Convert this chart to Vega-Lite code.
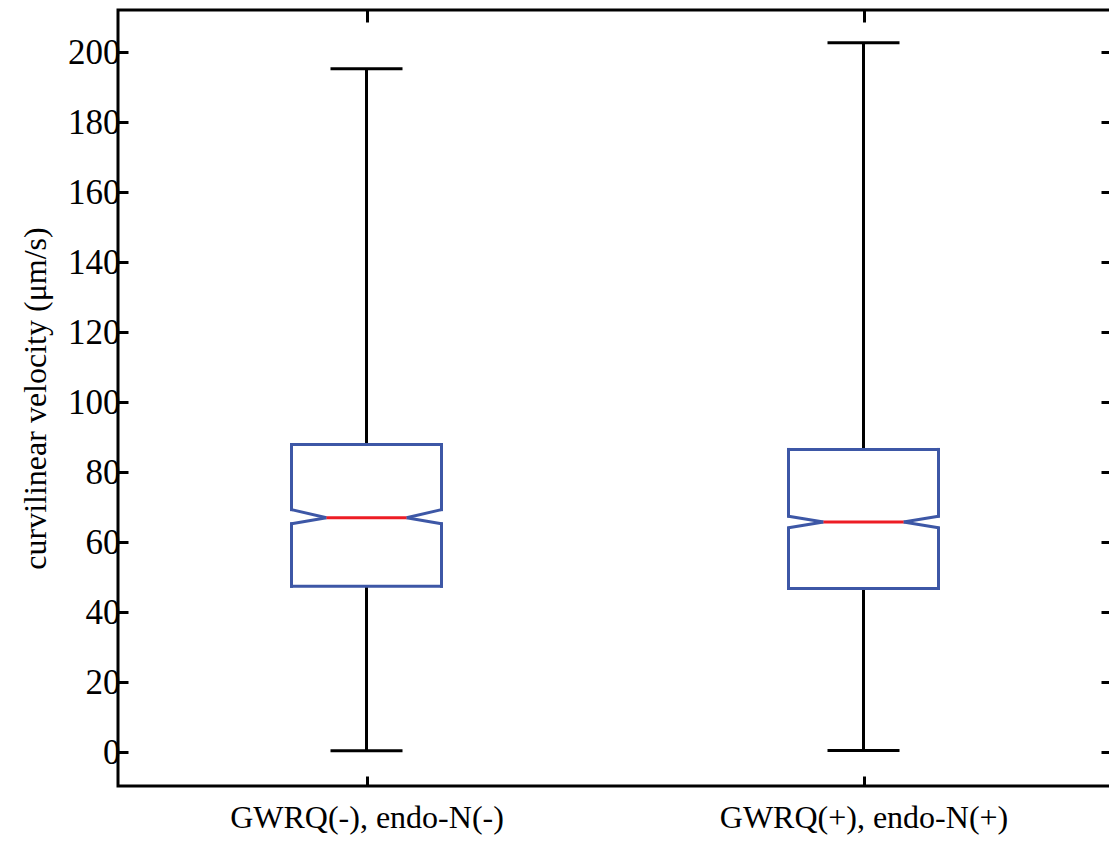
{
  "$schema": "https://vega.github.io/schema/vega-lite/v6.json",
  "autosize": "none",
  "width": 994,
  "height": 776,
  "padding": {"left": 118, "top": 10, "right": 0, "bottom": 55},
  "background": "white",
  "config": {
    "view": {"stroke": "black", "strokeWidth": 3},
    "axis": {
      "labelFont": "Liberation Serif",
      "titleFont": "Liberation Serif",
      "labelColor": "black",
      "titleColor": "black",
      "tickColor": "black",
      "tickWidth": 3,
      "labelLimit": 0,
      "domain": false,
      "grid": false
    },
    "tick": {"opacity": 1}
  },
  "data": {
    "values": [
      {"group": "GWRQ(-), endo-N(-)", "lo": 0.4, "q1": 47.4, "notchLo": 65.3, "med": 67.0, "notchHi": 69.3, "q3": 87.9, "hi": 195.3},
      {"group": "GWRQ(+), endo-N(+)", "lo": 0.5, "q1": 46.8, "notchLo": 64.1, "med": 65.8, "notchHi": 67.4, "q3": 86.5, "hi": 202.7}
    ]
  },
  "resolve": {"axis": {"x": "independent", "y": "independent"}},
  "layer": [
    {
      "mark": {"type": "rule", "color": "black", "strokeWidth": 3},
      "encoding": {
        "x": {"field": "group", "type": "nominal", "sort": null, "scale": {"type": "point", "padding": 0.5, "domain": ["GWRQ(-), endo-N(-)", "GWRQ(+), endo-N(+)"]},
          "axis": {"orient": "bottom", "title": null, "labelAngle": 0, "labelFontSize": 32, "tickSize": -10, "labelPadding": 26}},
        "y": {"field": "q3", "type": "quantitative", "scale": {"domain": [-9.66, 212.06], "nice": false, "zero": false},
          "axis": {"orient": "left", "values": [0, 20, 40, 60, 80, 100, 120, 140, 160, 180, 200], "tickSize": -10, "labelPadding": 8, "labelFontSize": 35,
            "title": "curvilinear velocity (μm/s)", "titleFontSize": 32, "titleFontWeight": "normal", "titlePadding": 15}},
        "y2": {"field": "hi"}
      }
    },
    {
      "mark": {"type": "rule", "color": "black", "strokeWidth": 3},
      "encoding": {
        "x": {"field": "group", "type": "nominal", "sort": null,
          "axis": {"orient": "top", "title": null, "labels": false, "tickSize": -12}},
        "y": {"field": "lo", "type": "quantitative",
          "axis": {"orient": "right", "title": null, "labels": false, "values": [0, 20, 40, 60, 80, 100, 120, 140, 160, 180, 200], "tickSize": -11}},
        "y2": {"field": "q1"}
      }
    },
    {
      "mark": {"type": "tick", "color": "black", "opacity": 1, "size": 72, "thickness": 3},
      "encoding": {
        "x": {"field": "group", "type": "nominal", "sort": null, "axis": null},
        "y": {"field": "hi", "type": "quantitative", "axis": null}
      }
    },
    {
      "mark": {"type": "tick", "color": "black", "opacity": 1, "size": 72, "thickness": 3},
      "encoding": {
        "x": {"field": "group", "type": "nominal", "sort": null, "axis": null},
        "y": {"field": "lo", "type": "quantitative", "axis": null}
      }
    },
    {
      "mark": {"type": "tick", "color": "#3d57a6", "opacity": 1, "size": 153, "thickness": 3},
      "encoding": {
        "x": {"field": "group", "type": "nominal", "sort": null, "axis": null},
        "y": {"field": "q3", "type": "quantitative", "axis": null}
      }
    },
    {
      "mark": {"type": "tick", "color": "#3d57a6", "opacity": 1, "size": 153, "thickness": 3},
      "encoding": {
        "x": {"field": "group", "type": "nominal", "sort": null, "axis": null},
        "y": {"field": "q1", "type": "quantitative", "axis": null}
      }
    },
    {
      "mark": {"type": "rule", "color": "#3d57a6", "strokeWidth": 3, "strokeCap": "square", "xOffset": -75},
      "encoding": {
        "x": {"field": "group", "type": "nominal", "sort": null, "axis": null},
        "y": {"field": "q1", "type": "quantitative", "axis": null},
        "y2": {"field": "notchLo"}
      }
    },
    {
      "mark": {"type": "rule", "color": "#3d57a6", "strokeWidth": 3, "strokeCap": "square", "xOffset": 75},
      "encoding": {
        "x": {"field": "group", "type": "nominal", "sort": null, "axis": null},
        "y": {"field": "q1", "type": "quantitative", "axis": null},
        "y2": {"field": "notchLo"}
      }
    },
    {
      "mark": {"type": "rule", "color": "#3d57a6", "strokeWidth": 3, "strokeCap": "square", "xOffset": -75},
      "encoding": {
        "x": {"field": "group", "type": "nominal", "sort": null, "axis": null},
        "y": {"field": "notchHi", "type": "quantitative", "axis": null},
        "y2": {"field": "q3"}
      }
    },
    {
      "mark": {"type": "rule", "color": "#3d57a6", "strokeWidth": 3, "strokeCap": "square", "xOffset": 75},
      "encoding": {
        "x": {"field": "group", "type": "nominal", "sort": null, "axis": null},
        "y": {"field": "notchHi", "type": "quantitative", "axis": null},
        "y2": {"field": "q3"}
      }
    },
    {
      "mark": {"type": "rule", "color": "#3d57a6", "strokeWidth": 3, "xOffset": -75, "x2Offset": -40},
      "encoding": {
        "x": {"field": "group", "type": "nominal", "sort": null, "axis": null},
        "x2": {"field": "group"},
        "y": {"field": "notchHi", "type": "quantitative", "axis": null},
        "y2": {"field": "med"}
      }
    },
    {
      "mark": {"type": "rule", "color": "#3d57a6", "strokeWidth": 3, "xOffset": -75, "x2Offset": -40},
      "encoding": {
        "x": {"field": "group", "type": "nominal", "sort": null, "axis": null},
        "x2": {"field": "group"},
        "y": {"field": "notchLo", "type": "quantitative", "axis": null},
        "y2": {"field": "med"}
      }
    },
    {
      "mark": {"type": "rule", "color": "#3d57a6", "strokeWidth": 3, "xOffset": 75, "x2Offset": 40},
      "encoding": {
        "x": {"field": "group", "type": "nominal", "sort": null, "axis": null},
        "x2": {"field": "group"},
        "y": {"field": "notchHi", "type": "quantitative", "axis": null},
        "y2": {"field": "med"}
      }
    },
    {
      "mark": {"type": "rule", "color": "#3d57a6", "strokeWidth": 3, "xOffset": 75, "x2Offset": 40},
      "encoding": {
        "x": {"field": "group", "type": "nominal", "sort": null, "axis": null},
        "x2": {"field": "group"},
        "y": {"field": "notchLo", "type": "quantitative", "axis": null},
        "y2": {"field": "med"}
      }
    },
    {
      "mark": {"type": "tick", "color": "#ed1c24", "opacity": 1, "size": 80, "thickness": 3},
      "encoding": {
        "x": {"field": "group", "type": "nominal", "sort": null, "axis": null},
        "y": {"field": "med", "type": "quantitative", "axis": null}
      }
    }
  ]
}
